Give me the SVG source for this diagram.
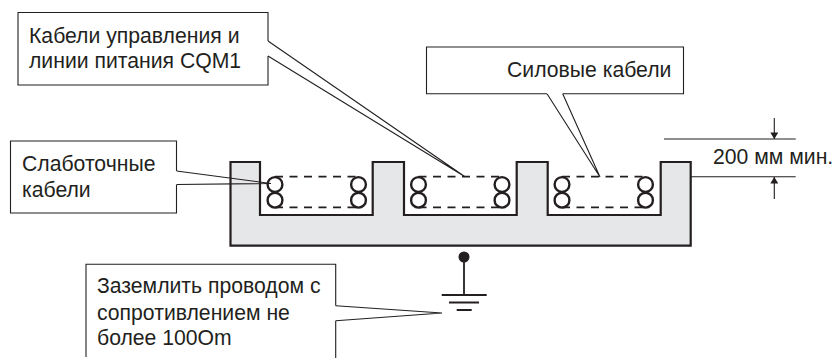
<svg xmlns="http://www.w3.org/2000/svg" width="834" height="358" viewBox="0 0 834 358">
<defs>
<marker id="arr" viewBox="0 0 8 10" refX="8" refY="5" markerWidth="8" markerHeight="8" markerUnits="userSpaceOnUse" orient="auto"><path d="M0 0L8 5L0 10Z" fill="#231f20"/></marker>
<g id="cables"><circle cx="0" cy="7.800" r="7.400" class="c"/><circle cx="0" cy="23.500" r="7.400" class="c"/><circle cx="83.500" cy="7.800" r="7.400" class="c"/><circle cx="83.500" cy="23.500" r="7.400" class="c"/><path d="M0 0H83.500M0 30.700H83.500" class="d"/></g>
</defs>
<style>
text{font-family:"Liberation Sans",Arial,sans-serif;font-size:21.200px;fill:#231f20}
.b{fill:#fff;stroke:#231f20;stroke-width:1.100}
.c{fill:none;stroke:#231f20;stroke-width:2.400}
.d{fill:none;stroke:#231f20;stroke-width:1.800;stroke-dasharray:8 6.500}
.l{fill:none;stroke:#231f20;stroke-width:1.100}
.g{fill:none;stroke:#231f20;stroke-width:1.800}
</style>
<rect width="834" height="358" fill="#fff"/>
<g id="tray"><path d="M230.500 162H260V215H372.700V162H404V215H516.700V162H547.700V215H660.700V162H690.700V245.700H230.500Z" fill="#e6e7e8" stroke="#231f20" stroke-width="2.200"/></g>
<g id="cables-1"><use href="#cables" x="275" y="176.700"/></g>
<g id="cables-2"><use href="#cables" x="418.500" y="176.700"/></g>
<g id="cables-3"><use href="#cables" x="562" y="176.700"/></g>
<g id="connectors">
<path class="l" d="M268 41L465 176.700L268 56"/>
<path class="l" d="M176.500 171L271 183.500L176.500 184.500"/>
<path class="l" d="M547 93.700L600 177L562.700 93.700"/>
<path class="l" d="M335.700 305.700L442 313L335.700 320.700"/>
</g>
<g id="box-control"><path class="b" d="M268 41V12.500H18V85H268V56"/><text x="29" y="43">Кабели управления и</text><text x="29" y="68">линии питания CQM1</text></g>
<g id="box-low"><path class="b" d="M176.500 171V141H10.500V213H176.500V184.500"/><text x="22" y="171">Слаботочные</text><text x="22" y="197">кабели</text></g>
<g id="box-power"><path class="b" d="M547 93.700H426.500V47H683.500V93.700H562.700"/><text x="507" y="77">Силовые кабели</text></g>
<g id="box-ground"><path class="b" d="M86 357V264.300H335.700V305.700M335.700 320.700V358" fill="none"/><text x="97" y="293">Заземлить проводом с</text><text x="97" y="320">сопротивлением не</text><text x="97" y="345">более 100Om</text></g>
<g id="ground"><circle cx="464" cy="257" r="5.500" fill="#231f20"/><path class="g" d="M464 257V295M441.700 295H486.700M449 302.500H479M456.700 310H471.700"/></g>
<g id="dimension"><path class="l" d="M664 139H795.700M690.700 176.700H795.700"/><path class="l" d="M774.300 118V139" marker-end="url(#arr)"/><path class="l" d="M774.300 199V177" marker-end="url(#arr)"/><text x="713" y="164">200 мм мин.</text></g>
</svg>
